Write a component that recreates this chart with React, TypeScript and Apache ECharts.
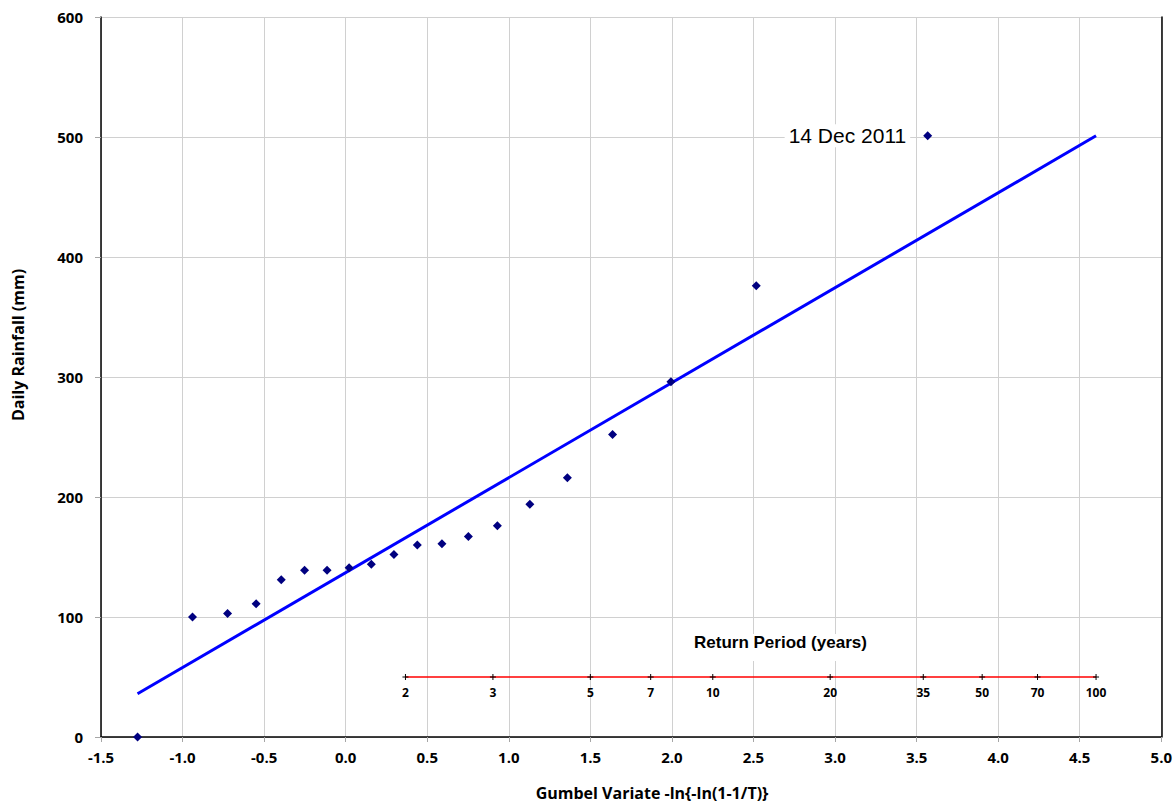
import React, { useEffect, useRef } from "react";
import * as echarts from "echarts";

// Gumbel reduced variate (Gringorten plotting positions) of observed annual maxima
const gumbelX = [
  -1.276, -0.939, -0.724, -0.549, -0.395, -0.252, -0.114, 0.021, 0.157, 0.296,
  0.439, 0.59, 0.752, 0.93, 1.129, 1.359, 1.636, 1.994, 2.517, 3.568,
];
// Daily rainfall (mm)
const rainfall = [
  0, 100, 103, 111, 131, 139, 139, 141, 144, 152,
  160, 161, 167, 176, 194, 216, 252, 296, 376, 501,
];
const highlightLabel = "14 Dec 2011";

// Fitted Gumbel line end points [x, mm]
const fitLine = [
  [-1.276, 36],
  [4.6, 501],
];

// Return period scale
const returnPeriods = [2, 3, 5, 7, 10, 20, 35, 50, 70, 100];
const returnPeriodX = [0.3665, 0.9027, 1.4999, 1.8698, 2.2504, 2.9702, 3.5409, 3.9019, 4.2413, 4.6001];
const returnPeriodLevel = 50;

const xTitle = "Gumbel Variate -ln{-ln(1-1/T)}";
const yTitle = "Daily Rainfall (mm)";
const rpTitle = "Return Period (years)";

const tickFont = "'Open Sans', Lato, sans-serif";
const arialFont = "'Liberation Sans', Arial, sans-serif";

export default function App() {
  const ref = useRef<HTMLDivElement>(null);

  useEffect(() => {
    document.body.style.margin = "0";
    if (!ref.current) return;
    const chart = echarts.init(ref.current, null, { renderer: "svg" });

    const obs = gumbelX.map((x, i) => {
      const item: any = { value: [x, rainfall[i]] };
      if (i === gumbelX.length - 1) {
        item.label = {
          show: true,
          position: "left",
          distance: 13,
          formatter: highlightLabel,
          fontFamily: arialFont,
          fontSize: 21,
          color: "#000",
          backgroundColor: "#fff",
          padding: [1, 4, 1, 4],
        };
      }
      return item;
    });

    const rpTicks = returnPeriodX.map((x, i) => ({
      value: [x, returnPeriodLevel],
      name: String(returnPeriods[i]),
    }));

    chart.setOption({
      animation: false,
      backgroundColor: "#fff",
      grid: { left: 101, right: 13, top: 17, bottom: 68, containLabel: false },
      xAxis: {
        type: "value",
        min: -1.5,
        max: 5,
        interval: 0.5,
        axisLine: { show: true, onZero: false, lineStyle: { color: "#000", width: 1.5 } },
        axisTick: { show: true, length: 5, lineStyle: { color: "#a6a6a6" } },
        axisLabel: {
          margin: 12,
          fontFamily: tickFont,
          fontWeight: "bold",
          fontSize: 15,
          color: "#000",
          formatter: (v: number) => v.toFixed(1),
        },
        splitLine: { show: true, lineStyle: { color: "#d0d0d0", width: 1 } },
      },
      yAxis: [
        {
          type: "value",
          min: 0,
          max: 600,
          interval: 100,
          axisLine: { show: true, onZero: false, lineStyle: { color: "#000", width: 1.5 } },
          axisTick: { show: true, length: 6, lineStyle: { color: "#a6a6a6" } },
          axisLabel: {
            margin: 18,
            fontFamily: tickFont,
            fontWeight: "bold",
            fontSize: 15,
            color: "#000",
          },
          splitLine: { show: true, lineStyle: { color: "#d0d0d0", width: 1 } },
        },
        {
          type: "value",
          min: 0,
          max: 600,
          interval: 100,
          position: "right",
          axisLine: { show: true, onZero: false, lineStyle: { color: "#000", width: 1.5 } },
          axisTick: { show: false },
          axisLabel: { show: false },
          splitLine: { show: false },
        },
      ],
      graphic: [
        {
          type: "text",
          x: 652,
          y: 793,
          style: {
            text: xTitle,
            fontFamily: tickFont,
            fontWeight: "bold",
            fontSize: 16,
            fill: "#000",
            align: "center",
            verticalAlign: "middle",
          },
        },
        {
          type: "text",
          x: 18,
          y: 345,
          rotation: Math.PI / 2,
          style: {
            text: yTitle,
            fontFamily: tickFont,
            fontWeight: "bold",
            fontSize: 16,
            fill: "#000",
            align: "center",
            verticalAlign: "middle",
          },
        },
        {
          type: "text",
          left: 692,
          top: 634,
          z: 5,
          style: {
            text: rpTitle,
            fontFamily: arialFont,
            fontWeight: "bold",
            fontSize: 17,
            fill: "#000",
            backgroundColor: "#fff",
            padding: [0, 2, 10, 2],
          },
        },
      ],
      series: [
        {
          type: "line",
          data: [
            [returnPeriodX[0], returnPeriodLevel],
            [returnPeriodX[returnPeriodX.length - 1], returnPeriodLevel],
          ],
          showSymbol: false,
          symbol: "none",
          lineStyle: { color: "#ff0000", width: 1.3 },
          z: 3,
        },
        {
          type: "scatter",
          data: rpTicks,
          symbol: "path://M0,3L6,3M3,0L3,6",
          symbolSize: 6,
          itemStyle: { color: "transparent", borderColor: "#000", borderWidth: 1, opacity: 1 },
          label: {
            show: true,
            position: "bottom",
            distance: 6,
            formatter: (p: any) => p.name,
            fontFamily: tickFont,
            fontWeight: "bold",
            fontSize: 12,
            color: "#000",
          },
          z: 4,
        },
        {
          type: "line",
          data: fitLine,
          showSymbol: false,
          symbol: "none",
          lineStyle: { color: "#0000ff", width: 3 },
          z: 6,
        },
        {
          type: "scatter",
          data: obs,
          symbol: "diamond",
          symbolSize: 9,
          itemStyle: { color: "#000080", opacity: 1 },
          z: 7,
        },
      ],
    });

    return () => chart.dispose();
  }, []);

  return <div ref={ref} style={{ width: 1175, height: 805 }} />;
}
